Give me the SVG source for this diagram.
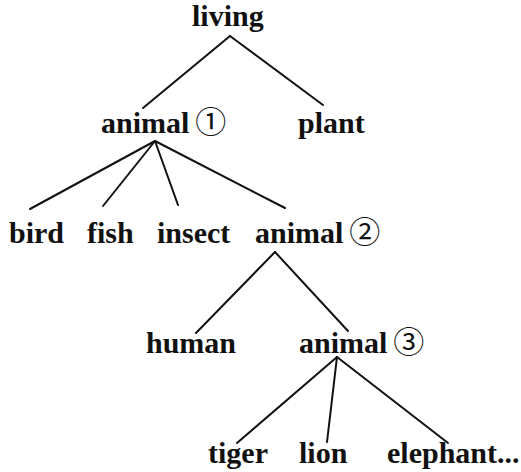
<svg xmlns="http://www.w3.org/2000/svg" width="521" height="472" viewBox="0 0 521 472">
<style>
text{font-family:"Liberation Serif","Times New Roman",serif;font-weight:bold;font-size:30px;fill:#111}
.c{font-family:"Noto Sans CJK SC","DejaVu Sans",sans-serif;font-weight:normal;font-size:31px}
.e line{stroke:#111;stroke-width:2;stroke-linecap:round}
</style>
<rect width="521" height="472" fill="#fff"/>
<g id="edges" class="e">
<line x1="230" y1="36" x2="143" y2="108"/>
<line x1="230" y1="36" x2="323" y2="105"/>
<line x1="155" y1="141" x2="30" y2="209"/>
<line x1="155" y1="141" x2="103" y2="206"/>
<line x1="155" y1="141" x2="178" y2="205"/>
<line x1="155" y1="141" x2="285" y2="208"/>
<line x1="275" y1="252" x2="196" y2="333"/>
<line x1="275" y1="252" x2="348" y2="331"/>
<line x1="337" y1="357" x2="237" y2="443"/>
<line x1="337" y1="357" x2="327" y2="442"/>
<line x1="337" y1="357" x2="448" y2="443"/>
</g>
<g id="living"><text x="192" y="26">living</text></g>
<g id="animal1"><text x="101" y="133">animal<tspan class="c" dx="6">①</tspan></text></g>
<g id="plant"><text x="298" y="133">plant</text></g>
<g id="bird"><text x="9" y="243">bird</text></g>
<g id="fish"><text x="87" y="243">fish</text></g>
<g id="insect"><text x="157" y="243">insect</text></g>
<g id="animal2"><text x="255" y="243">animal<tspan class="c" dx="6">②</tspan></text></g>
<g id="human"><text x="146" y="353">human</text></g>
<g id="animal3"><text x="299" y="353">animal<tspan class="c" dx="6">③</tspan></text></g>
<g id="tiger"><text x="208" y="463">tiger</text></g>
<g id="lion"><text x="299" y="463">lion</text></g>
<g id="elephant"><text x="387" y="463">elephant...</text></g>
</svg>
